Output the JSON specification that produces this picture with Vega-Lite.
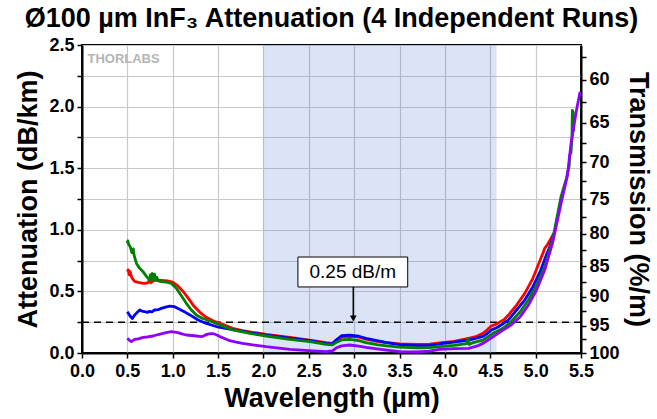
{
  "$schema": "https://vega.github.io/schema/vega-lite/v6.json",
  "width": 499,
  "height": 308,
  "autosize": "none",
  "padding": {"left": 82, "top": 45, "right": 76, "bottom": 66},
  "background": "white",
  "title": {
    "text": "Ø100 µm InF₃ Attenuation (4 Independent Runs)",
    "font": "Liberation Sans",
    "fontSize": 27,
    "fontWeight": "bold",
    "color": "black",
    "anchor": "middle",
    "frame": "group",
    "offset": 3
  },
  "config": {
    "view": {"stroke": "black", "strokeWidth": 2},
    "axis": {
      "domainColor": "black",
      "domainWidth": 2,
      "tickColor": "black",
      "tickWidth": 1.5,
      "tickSize": 5,
      "labelColor": "black",
      "labelFont": "Liberation Sans",
      "labelFontSize": 18,
      "labelFontWeight": "bold",
      "labelFlush": false,
      "labelOverlap": false,
      "titleFont": "Liberation Sans",
      "titleFontSize": 27,
      "titleFontWeight": "bold",
      "titleColor": "black",
      "gridColor": "#c8c8c8",
      "gridWidth": 1.2
    }
  },
  "datasets": {
    "runs": [
      {"run": "Run 1", "wl": 0.50, "att": 0.66}, {"run": "Run 1", "wl": 0.51, "att": 0.675}, {"run": "Run 1", "wl": 0.52, "att": 0.635}, {"run": "Run 1", "wl": 0.53, "att": 0.66}, {"run": "Run 1", "wl": 0.55, "att": 0.61}, {"run": "Run 1", "wl": 0.58, "att": 0.582}, {"run": "Run 1", "wl": 0.62, "att": 0.574}, {"run": "Run 1", "wl": 0.66, "att": 0.568}, {"run": "Run 1", "wl": 0.70, "att": 0.565}, {"run": "Run 1", "wl": 0.73, "att": 0.572}, {"run": "Run 1", "wl": 0.745, "att": 0.595}, {"run": "Run 1", "wl": 0.76, "att": 0.57}, {"run": "Run 1", "wl": 0.79, "att": 0.588}, {"run": "Run 1", "wl": 0.82, "att": 0.592}, {"run": "Run 1", "wl": 0.88, "att": 0.59}, {"run": "Run 1", "wl": 0.94, "att": 0.586}, {"run": "Run 1", "wl": 1.00, "att": 0.575}, {"run": "Run 1", "wl": 1.06, "att": 0.542}, {"run": "Run 1", "wl": 1.12, "att": 0.495}, {"run": "Run 1", "wl": 1.18, "att": 0.435}, {"run": "Run 1", "wl": 1.24, "att": 0.375}, {"run": "Run 1", "wl": 1.30, "att": 0.33}, {"run": "Run 1", "wl": 1.37, "att": 0.29}, {"run": "Run 1", "wl": 1.45, "att": 0.26}, {"run": "Run 1", "wl": 1.55, "att": 0.232}, {"run": "Run 1", "wl": 1.66, "att": 0.2}, {"run": "Run 1", "wl": 1.77, "att": 0.182}, {"run": "Run 1", "wl": 1.88, "att": 0.168}, {"run": "Run 1", "wl": 2.03, "att": 0.151}, {"run": "Run 1", "wl": 2.29, "att": 0.127}, {"run": "Run 1", "wl": 2.51, "att": 0.105}, {"run": "Run 1", "wl": 2.69, "att": 0.084}, {"run": "Run 1", "wl": 2.76, "att": 0.078}, {"run": "Run 1", "wl": 2.80, "att": 0.1}, {"run": "Run 1", "wl": 2.86, "att": 0.13}, {"run": "Run 1", "wl": 2.95, "att": 0.136}, {"run": "Run 1", "wl": 3.05, "att": 0.128}, {"run": "Run 1", "wl": 3.13, "att": 0.113}, {"run": "Run 1", "wl": 3.25, "att": 0.095}, {"run": "Run 1", "wl": 3.36, "att": 0.085}, {"run": "Run 1", "wl": 3.50, "att": 0.074}, {"run": "Run 1", "wl": 3.70, "att": 0.07}, {"run": "Run 1", "wl": 3.83, "att": 0.072}, {"run": "Run 1", "wl": 3.94, "att": 0.082}, {"run": "Run 1", "wl": 4.10, "att": 0.095}, {"run": "Run 1", "wl": 4.26, "att": 0.119}, {"run": "Run 1", "wl": 4.35, "att": 0.135}, {"run": "Run 1", "wl": 4.42, "att": 0.16}, {"run": "Run 1", "wl": 4.47, "att": 0.19}, {"run": "Run 1", "wl": 4.51, "att": 0.219}, {"run": "Run 1", "wl": 4.56, "att": 0.232}, {"run": "Run 1", "wl": 4.60, "att": 0.25}, {"run": "Run 1", "wl": 4.65, "att": 0.27}, {"run": "Run 1", "wl": 4.70, "att": 0.308}, {"run": "Run 1", "wl": 4.79, "att": 0.389}, {"run": "Run 1", "wl": 4.88, "att": 0.484}, {"run": "Run 1", "wl": 4.97, "att": 0.606}, {"run": "Run 1", "wl": 5.05, "att": 0.755}, {"run": "Run 1", "wl": 5.08, "att": 0.81}, {"run": "Run 1", "wl": 5.10, "att": 0.85}, {"run": "Run 1", "wl": 5.13, "att": 0.88}, {"run": "Run 1", "wl": 5.16, "att": 0.917}, {"run": "Run 1", "wl": 5.20, "att": 0.97},

      {"run": "Run 2", "wl": 0.50, "att": 0.335}, {"run": "Run 2", "wl": 0.53, "att": 0.30}, {"run": "Run 2", "wl": 0.555, "att": 0.28}, {"run": "Run 2", "wl": 0.58, "att": 0.309}, {"run": "Run 2", "wl": 0.61, "att": 0.33}, {"run": "Run 2", "wl": 0.636, "att": 0.349}, {"run": "Run 2", "wl": 0.66, "att": 0.34}, {"run": "Run 2", "wl": 0.69, "att": 0.335}, {"run": "Run 2", "wl": 0.72, "att": 0.33}, {"run": "Run 2", "wl": 0.746, "att": 0.338}, {"run": "Run 2", "wl": 0.77, "att": 0.333}, {"run": "Run 2", "wl": 0.80, "att": 0.349}, {"run": "Run 2", "wl": 0.84, "att": 0.352}, {"run": "Run 2", "wl": 0.875, "att": 0.362}, {"run": "Run 2", "wl": 0.92, "att": 0.372}, {"run": "Run 2", "wl": 0.967, "att": 0.38}, {"run": "Run 2", "wl": 1.02, "att": 0.376}, {"run": "Run 2", "wl": 1.09, "att": 0.349}, {"run": "Run 2", "wl": 1.14, "att": 0.33}, {"run": "Run 2", "wl": 1.19, "att": 0.309}, {"run": "Run 2", "wl": 1.28, "att": 0.268}, {"run": "Run 2", "wl": 1.37, "att": 0.24}, {"run": "Run 2", "wl": 1.48, "att": 0.215}, {"run": "Run 2", "wl": 1.58, "att": 0.2}, {"run": "Run 2", "wl": 1.66, "att": 0.19}, {"run": "Run 2", "wl": 1.85, "att": 0.165}, {"run": "Run 2", "wl": 2.03, "att": 0.146}, {"run": "Run 2", "wl": 2.29, "att": 0.12}, {"run": "Run 2", "wl": 2.51, "att": 0.1}, {"run": "Run 2", "wl": 2.69, "att": 0.078}, {"run": "Run 2", "wl": 2.76, "att": 0.075}, {"run": "Run 2", "wl": 2.80, "att": 0.105}, {"run": "Run 2", "wl": 2.86, "att": 0.14}, {"run": "Run 2", "wl": 2.95, "att": 0.145}, {"run": "Run 2", "wl": 3.05, "att": 0.136}, {"run": "Run 2", "wl": 3.13, "att": 0.119}, {"run": "Run 2", "wl": 3.25, "att": 0.1}, {"run": "Run 2", "wl": 3.36, "att": 0.084}, {"run": "Run 2", "wl": 3.50, "att": 0.068}, {"run": "Run 2", "wl": 3.70, "att": 0.06}, {"run": "Run 2", "wl": 3.83, "att": 0.062}, {"run": "Run 2", "wl": 3.94, "att": 0.075}, {"run": "Run 2", "wl": 4.10, "att": 0.088}, {"run": "Run 2", "wl": 4.26, "att": 0.105}, {"run": "Run 2", "wl": 4.35, "att": 0.12}, {"run": "Run 2", "wl": 4.42, "att": 0.135}, {"run": "Run 2", "wl": 4.47, "att": 0.16}, {"run": "Run 2", "wl": 4.51, "att": 0.186}, {"run": "Run 2", "wl": 4.57, "att": 0.205}, {"run": "Run 2", "wl": 4.62, "att": 0.227}, {"run": "Run 2", "wl": 4.70, "att": 0.268}, {"run": "Run 2", "wl": 4.79, "att": 0.349}, {"run": "Run 2", "wl": 4.88, "att": 0.43}, {"run": "Run 2", "wl": 4.97, "att": 0.538}, {"run": "Run 2", "wl": 5.05, "att": 0.66}, {"run": "Run 2", "wl": 5.12, "att": 0.8}, {"run": "Run 2", "wl": 5.16, "att": 0.87}, {"run": "Run 2", "wl": 5.21, "att": 0.984},

      {"run": "Run 3", "wl": 0.50, "att": 0.89}, {"run": "Run 3", "wl": 0.505, "att": 0.91}, {"run": "Run 3", "wl": 0.515, "att": 0.88}, {"run": "Run 3", "wl": 0.533, "att": 0.86}, {"run": "Run 3", "wl": 0.55, "att": 0.815}, {"run": "Run 3", "wl": 0.565, "att": 0.845}, {"run": "Run 3", "wl": 0.575, "att": 0.79}, {"run": "Run 3", "wl": 0.60, "att": 0.727}, {"run": "Run 3", "wl": 0.636, "att": 0.687}, {"run": "Run 3", "wl": 0.673, "att": 0.66}, {"run": "Run 3", "wl": 0.71, "att": 0.622}, {"run": "Run 3", "wl": 0.746, "att": 0.592}, {"run": "Run 3", "wl": 0.755, "att": 0.635}, {"run": "Run 3", "wl": 0.765, "att": 0.596}, {"run": "Run 3", "wl": 0.775, "att": 0.645}, {"run": "Run 3", "wl": 0.785, "att": 0.6}, {"run": "Run 3", "wl": 0.80, "att": 0.64}, {"run": "Run 3", "wl": 0.81, "att": 0.592}, {"run": "Run 3", "wl": 0.825, "att": 0.615}, {"run": "Run 3", "wl": 0.84, "att": 0.585}, {"run": "Run 3", "wl": 0.875, "att": 0.58}, {"run": "Run 3", "wl": 0.93, "att": 0.575}, {"run": "Run 3", "wl": 0.985, "att": 0.565}, {"run": "Run 3", "wl": 1.04, "att": 0.525}, {"run": "Run 3", "wl": 1.09, "att": 0.47}, {"run": "Run 3", "wl": 1.15, "att": 0.403}, {"run": "Run 3", "wl": 1.205, "att": 0.349}, {"run": "Run 3", "wl": 1.26, "att": 0.308}, {"run": "Run 3", "wl": 1.33, "att": 0.28}, {"run": "Run 3", "wl": 1.41, "att": 0.262}, {"run": "Run 3", "wl": 1.48, "att": 0.24}, {"run": "Run 3", "wl": 1.52, "att": 0.228}, {"run": "Run 3", "wl": 1.66, "att": 0.188}, {"run": "Run 3", "wl": 1.85, "att": 0.159}, {"run": "Run 3", "wl": 2.03, "att": 0.138}, {"run": "Run 3", "wl": 2.29, "att": 0.111}, {"run": "Run 3", "wl": 2.51, "att": 0.092}, {"run": "Run 3", "wl": 2.69, "att": 0.07}, {"run": "Run 3", "wl": 2.76, "att": 0.066}, {"run": "Run 3", "wl": 2.80, "att": 0.085}, {"run": "Run 3", "wl": 2.86, "att": 0.106}, {"run": "Run 3", "wl": 2.95, "att": 0.111}, {"run": "Run 3", "wl": 3.05, "att": 0.1}, {"run": "Run 3", "wl": 3.13, "att": 0.084}, {"run": "Run 3", "wl": 3.25, "att": 0.068}, {"run": "Run 3", "wl": 3.36, "att": 0.057}, {"run": "Run 3", "wl": 3.50, "att": 0.048}, {"run": "Run 3", "wl": 3.70, "att": 0.042}, {"run": "Run 3", "wl": 3.83, "att": 0.043}, {"run": "Run 3", "wl": 3.94, "att": 0.051}, {"run": "Run 3", "wl": 4.10, "att": 0.062}, {"run": "Run 3", "wl": 4.24, "att": 0.076}, {"run": "Run 3", "wl": 4.255, "att": 0.118}, {"run": "Run 3", "wl": 4.265, "att": 0.07}, {"run": "Run 3", "wl": 4.30, "att": 0.082}, {"run": "Run 3", "wl": 4.42, "att": 0.105}, {"run": "Run 3", "wl": 4.53, "att": 0.16}, {"run": "Run 3", "wl": 4.64, "att": 0.2}, {"run": "Run 3", "wl": 4.73, "att": 0.254}, {"run": "Run 3", "wl": 4.83, "att": 0.335}, {"run": "Run 3", "wl": 4.92, "att": 0.43}, {"run": "Run 3", "wl": 5.01, "att": 0.551}, {"run": "Run 3", "wl": 5.10, "att": 0.70}, {"run": "Run 3", "wl": 5.19, "att": 0.93}, {"run": "Run 3", "wl": 5.28, "att": 1.27}, {"run": "Run 3", "wl": 5.34, "att": 1.42}, {"run": "Run 3", "wl": 5.37, "att": 1.52}, {"run": "Run 3", "wl": 5.375, "att": 1.60}, {"run": "Run 3", "wl": 5.39, "att": 1.63}, {"run": "Run 3", "wl": 5.40, "att": 1.74}, {"run": "Run 3", "wl": 5.405, "att": 1.97}, {"run": "Run 3", "wl": 5.415, "att": 1.95}, {"run": "Run 3", "wl": 5.42, "att": 1.80},

      {"run": "Run 4", "wl": 0.50, "att": 0.119}, {"run": "Run 4", "wl": 0.52, "att": 0.105}, {"run": "Run 4", "wl": 0.544, "att": 0.092}, {"run": "Run 4", "wl": 0.56, "att": 0.1}, {"run": "Run 4", "wl": 0.58, "att": 0.11}, {"run": "Run 4", "wl": 0.62, "att": 0.115}, {"run": "Run 4", "wl": 0.673, "att": 0.127}, {"run": "Run 4", "wl": 0.72, "att": 0.13}, {"run": "Run 4", "wl": 0.783, "att": 0.138}, {"run": "Run 4", "wl": 0.84, "att": 0.15}, {"run": "Run 4", "wl": 0.893, "att": 0.159}, {"run": "Run 4", "wl": 0.94, "att": 0.168}, {"run": "Run 4", "wl": 0.985, "att": 0.173}, {"run": "Run 4", "wl": 1.02, "att": 0.17}, {"run": "Run 4", "wl": 1.058, "att": 0.165}, {"run": "Run 4", "wl": 1.10, "att": 0.155}, {"run": "Run 4", "wl": 1.15, "att": 0.146}, {"run": "Run 4", "wl": 1.21, "att": 0.142}, {"run": "Run 4", "wl": 1.26, "att": 0.138}, {"run": "Run 4", "wl": 1.316, "att": 0.132}, {"run": "Run 4", "wl": 1.34, "att": 0.138}, {"run": "Run 4", "wl": 1.37, "att": 0.15}, {"run": "Run 4", "wl": 1.40, "att": 0.155}, {"run": "Run 4", "wl": 1.44, "att": 0.158}, {"run": "Run 4", "wl": 1.48, "att": 0.148}, {"run": "Run 4", "wl": 1.52, "att": 0.133}, {"run": "Run 4", "wl": 1.57, "att": 0.118}, {"run": "Run 4", "wl": 1.63, "att": 0.10}, {"run": "Run 4", "wl": 1.70, "att": 0.088}, {"run": "Run 4", "wl": 1.77, "att": 0.078}, {"run": "Run 4", "wl": 1.90, "att": 0.064}, {"run": "Run 4", "wl": 2.03, "att": 0.051}, {"run": "Run 4", "wl": 2.29, "att": 0.03}, {"run": "Run 4", "wl": 2.50, "att": 0.02}, {"run": "Run 4", "wl": 2.69, "att": 0.011}, {"run": "Run 4", "wl": 2.76, "att": 0.018}, {"run": "Run 4", "wl": 2.80, "att": 0.04}, {"run": "Run 4", "wl": 2.86, "att": 0.058}, {"run": "Run 4", "wl": 2.95, "att": 0.065}, {"run": "Run 4", "wl": 3.05, "att": 0.056}, {"run": "Run 4", "wl": 3.13, "att": 0.046}, {"run": "Run 4", "wl": 3.25, "att": 0.034}, {"run": "Run 4", "wl": 3.36, "att": 0.024}, {"run": "Run 4", "wl": 3.50, "att": 0.011}, {"run": "Run 4", "wl": 3.70, "att": 0.008}, {"run": "Run 4", "wl": 3.83, "att": 0.015}, {"run": "Run 4", "wl": 3.94, "att": 0.03}, {"run": "Run 4", "wl": 4.10, "att": 0.035}, {"run": "Run 4", "wl": 4.26, "att": 0.038}, {"run": "Run 4", "wl": 4.35, "att": 0.055}, {"run": "Run 4", "wl": 4.42, "att": 0.078}, {"run": "Run 4", "wl": 4.53, "att": 0.132}, {"run": "Run 4", "wl": 4.64, "att": 0.186}, {"run": "Run 4", "wl": 4.73, "att": 0.227}, {"run": "Run 4", "wl": 4.83, "att": 0.295}, {"run": "Run 4", "wl": 4.92, "att": 0.389}, {"run": "Run 4", "wl": 5.01, "att": 0.511}, {"run": "Run 4", "wl": 5.10, "att": 0.673}, {"run": "Run 4", "wl": 5.19, "att": 0.903}, {"run": "Run 4", "wl": 5.28, "att": 1.214}, {"run": "Run 4", "wl": 5.35, "att": 1.44}, {"run": "Run 4", "wl": 5.39, "att": 1.70}, {"run": "Run 4", "wl": 5.45, "att": 1.97}, {"run": "Run 4", "wl": 5.49, "att": 2.12}
    ]
  },
  "layer": [
    {
      "description": "Shaded wavelength band, carrying the bottom and left axes",
      "data": {"values": [{}]},
      "mark": {"type": "rect", "fill": "#4a78d0", "fillOpacity": 0.2},
      "encoding": {
        "x": {
          "datum": 2.0,
          "type": "quantitative",
          "scale": {"domain": [0, 5.5], "nice": false, "zero": false},
          "axis": {
            "title": "Wavelength (µm)",
            "values": [0, 0.25, 0.5, 0.75, 1, 1.25, 1.5, 1.75, 2, 2.25, 2.5, 2.75, 3, 3.25, 3.5, 3.75, 4, 4.25, 4.5, 4.75, 5, 5.25, 5.5],
            "labelExpr": "(datum.value * 2) % 1 == 0 ? format(datum.value, '.1f') : ''",
            "grid": true,
            "labelPadding": 4,
            "titlePadding": 5
          }
        },
        "x2": {"datum": 4.57},
        "y": {
          "datum": 0,
          "type": "quantitative",
          "scale": {"domain": [0, 2.5], "nice": false},
          "axis": {
            "title": "Attenuation (dB/km)",
            "values": [0, 0.25, 0.5, 0.75, 1, 1.25, 1.5, 1.75, 2, 2.25, 2.5],
            "labelExpr": "(datum.value * 2) % 1 == 0 ? format(datum.value, '.1f') : ''",
            "grid": true,
            "labelPadding": 3,
            "titlePadding": 6
          }
        },
        "y2": {"datum": 2.5}
      }
    },
    {
      "description": "0.25 dB/m reference level, carrying the transmission axis",
      "data": {"values": [{}]},
      "mark": {"type": "rule", "color": "black", "strokeWidth": 1.5, "strokeDash": [7, 5]},
      "encoding": {
        "x": {"datum": 0, "type": "quantitative"},
        "x2": {"datum": 5.5},
        "y": {
          "datum": 0.25,
          "type": "quantitative",
          "axis": {
            "orient": "right",
            "title": "Transmission (%/m)",
            "values": [0, 0.10995, 0.22276, 0.33858, 0.45757, 0.57992, 0.70581, 0.83546, 0.9691, 1.10698, 1.24939, 1.39662, 1.54902, 1.70696, 1.87087, 2.0412, 2.21849, 2.40332],
            "labelExpr": "round(100 * pow(10, -datum.value / 10)) % 5 == 0 ? format(round(100 * pow(10, -datum.value / 10)), 'd') : ''",
            "grid": false,
            "labelPadding": 3,
            "titlePadding": 4
          }
        }
      }
    },
    {
      "description": "Attenuation spectra of the four runs",
      "data": {"name": "runs"},
      "mark": {"type": "line", "strokeWidth": 2.8, "strokeJoin": "round"},
      "encoding": {
        "x": {"field": "wl", "type": "quantitative"},
        "y": {"field": "att", "type": "quantitative", "axis": null},
        "color": {
          "field": "run",
          "type": "nominal",
          "scale": {"domain": ["Run 1", "Run 2", "Run 3", "Run 4"], "range": ["#ff0000", "#0000ff", "#008000", "#8f00ff"]},
          "legend": null
        }
      }
    },
    {
      "description": "Callout box",
      "data": {"values": [{}]},
      "mark": {"type": "rect", "fill": "white", "stroke": "black", "strokeWidth": 1},
      "encoding": {
        "x": {"datum": 2.38, "type": "quantitative"},
        "x2": {"datum": 3.59},
        "y": {"datum": 0.536, "type": "quantitative", "axis": null},
        "y2": {"datum": 0.779}
      }
    },
    {
      "data": {"values": [{}]},
      "mark": {"type": "text", "text": "0.25 dB/m", "font": "Liberation Sans", "fontSize": 19, "color": "black", "align": "center", "baseline": "middle"},
      "encoding": {
        "x": {"datum": 2.985, "type": "quantitative"},
        "y": {"datum": 0.657, "type": "quantitative", "axis": null}
      }
    },
    {
      "description": "Arrow shaft",
      "data": {"values": [{}]},
      "mark": {"type": "rule", "color": "black", "strokeWidth": 1.5},
      "encoding": {
        "x": {"datum": 2.99, "type": "quantitative"},
        "y": {"datum": 0.536, "type": "quantitative", "axis": null},
        "y2": {"datum": 0.3}
      }
    },
    {
      "description": "Arrow head",
      "data": {"values": [{}]},
      "mark": {"type": "point", "shape": "triangle-down", "filled": true, "color": "black", "opacity": 1, "size": 45},
      "encoding": {
        "x": {"datum": 2.99, "type": "quantitative"},
        "y": {"datum": 0.28, "type": "quantitative", "axis": null}
      }
    },
    {
      "description": "Watermark",
      "data": {"values": [{}]},
      "mark": {"type": "text", "text": "THORLABS", "font": "Liberation Sans", "fontSize": 13, "fontWeight": "bold", "color": "#b4b4b4", "align": "left", "baseline": "middle"},
      "encoding": {
        "x": {"datum": 0.06, "type": "quantitative"},
        "y": {"datum": 2.39, "type": "quantitative", "axis": null}
      }
    }
  ],
  "resolve": {"axis": {"y": "independent"}}
}
